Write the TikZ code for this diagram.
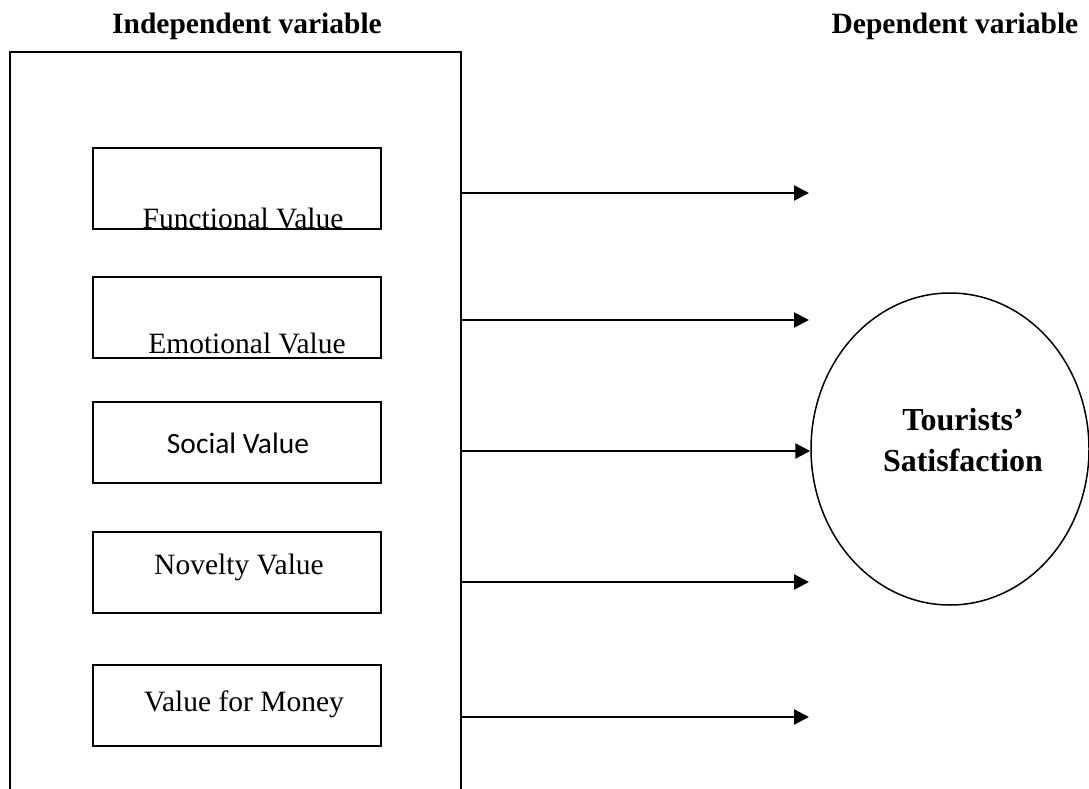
\documentclass[tikz,border=0pt]{standalone}
\usepackage{fontspec}
\setmainfont{Liberation Serif}
\newfontfamily\calibri{Carlito}
\usetikzlibrary{arrows.meta,positioning,shapes.geometric}
\tikzset{
  valbox/.style={draw=black, line width=2pt, minimum width=288pt, minimum height=81pt, inner sep=0pt},
  vallabel/.style={inner sep=0pt, anchor=base, font=\fontsize{29.5}{34}\selectfont},
  headlabel/.style={inner sep=0pt, anchor=base, font=\bfseries\fontsize{29.5}{34}\selectfont},
  effect/.style={line width=2.3pt, -{Triangle[length=15pt,width=15pt]}}
}
\begin{document}
\begin{tikzpicture}[x=1pt,y=-1pt]
\useasboundingbox (0,0) rectangle (1089,789);
\clip (0,0) rectangle (1089,789);
% headings
\node[headlabel] (indep) at (247,34) {Independent variable};
\node[headlabel] (dep) at (955,34) {Dependent variable};
% independent side
\node[draw, line width=2pt, minimum width=451pt, minimum height=760pt, inner sep=0pt, anchor=north west] (outer) at (9,51) {};
\node[valbox] (fv) at (237,188.5) {};
\node[valbox] (ev) at (237,317) {};
\node[valbox] (sv) at (237,442) {};
\node[valbox] (nv) at (237,572.5) {};
\node[valbox] (vm) at (237,705.5) {};
\node[vallabel] (fvtext) at (243,228) {Functional Value};
\node[vallabel] (evtext) at (247,353) {Emotional Value};
\node[vallabel, font=\calibri\fontsize{29.5}{34}\selectfont] (svtext) at (238,453) {Social Value};
\node[vallabel] (nvtext) at (239,574) {Novelty Value};
\node[vallabel] (vmtext) at (244,711) {Value for Money};
% dependent side
\node[draw, ellipse, line width=1.5pt, minimum width=278pt, minimum height=312pt, inner sep=0pt] (ts) at (950,449) {};
\node[align=center, inner sep=0pt, font=\bfseries\fontsize{32}{41}\selectfont] (tstext) at (963,440) {Tourists'\\Satisfaction};
% arrows
\coordinate (t1) at (809,193);
\coordinate (t2) at (809,320);
\coordinate (t3) at (ts.west |- 0,451);
\coordinate (t4) at (809,582);
\coordinate (t5) at (809,717);
\foreach \t in {t1,t2,t3,t4,t5}
  \draw[effect] (outer.east |- \t) -- (\t);
\end{tikzpicture}
\end{document}
